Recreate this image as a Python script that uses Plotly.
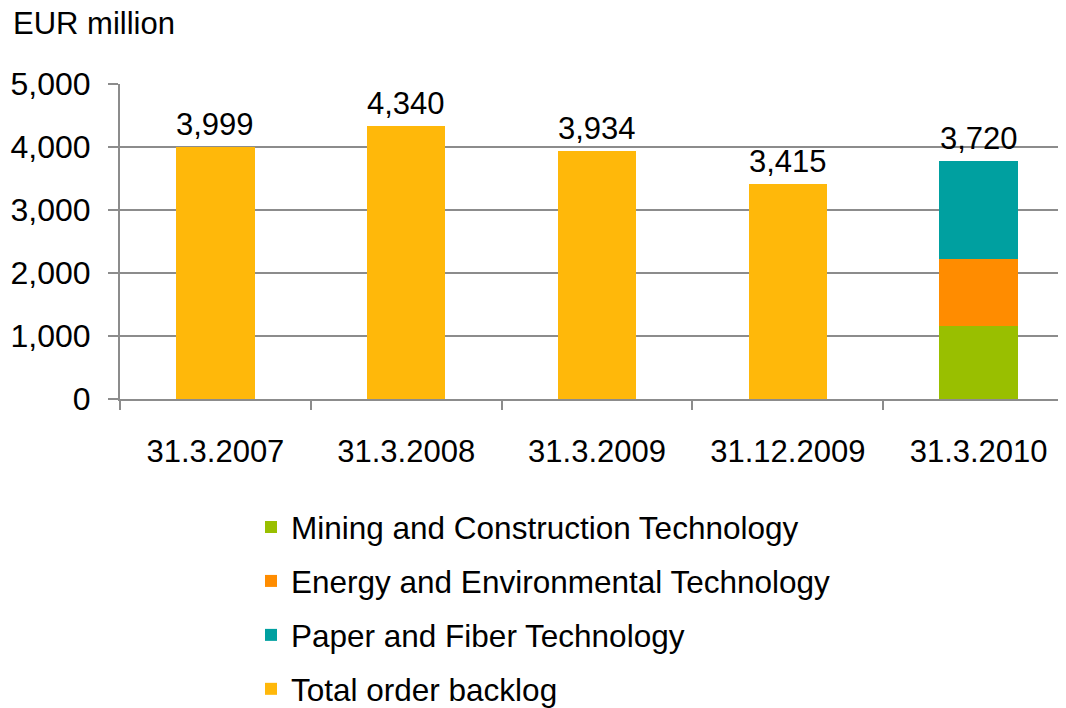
import plotly.graph_objects as go

categories = ["31.3.2007", "31.3.2008", "31.3.2009", "31.12.2009", "31.3.2010"]
total_backlog = [3999, 4340, 3934, 3415, None]
mining = [None, None, None, None, 1160]
energy = [None, None, None, None, 1060]
paper = [None, None, None, None, 1550]
label_values = [3999, 4340, 3934, 3415, 3720]

C_MINING = "#99BF00"
C_ENERGY = "#FF8C00"
C_PAPER = "#00A0A0"
C_TOTAL = "#FFB80A"
GRID = "#8C8C8C"
FONT = "Liberation Sans, Arial, sans-serif"

# page body adds an 8px offset; positions below are in figure pixels
W, H = 1066, 708
L, R, T, B = 112, 0, 76, 316
pw = W - L - R
ph = H - T - B

fig = go.Figure()
series = [
    ("Mining and Construction Technology", mining, C_MINING),
    ("Energy and Environmental Technology", energy, C_ENERGY),
    ("Paper and Fiber Technology", paper, C_PAPER),
    ("Total order backlog", total_backlog, C_TOTAL),
]
for i, (name, vals, col) in enumerate(series):
    fig.add_trace(go.Bar(
        x=categories, y=vals, name=name, marker_color=col,
        marker_line_width=0, width=0.41, legendgroup=f"g{i}",
        hoverinfo="x+y+name",
    ))

for i, cat in enumerate(categories):
    stack = sum(v[i] for _, v, _ in series if v[i] is not None)
    fig.add_annotation(
        x=cat, y=max(stack, label_values[i]), text=f"{label_values[i]:,}",
        showarrow=False, yanchor="bottom", yshift=3,
        font=dict(family=FONT, size=31, color="#000000"),
    )

fig.add_annotation(
    xref="paper", yref="paper", x=(4 - L) / pw, y=(H - B - 15) / ph,
    text="EUR million", showarrow=False, xanchor="left", yanchor="middle",
    borderpad=0,
    font=dict(family=FONT, size=31, color="#000000"),
)

fig.update_layout(
    width=W, height=H,
    margin=dict(l=L, r=R, t=T, b=B, pad=0),
    barmode="stack",
    plot_bgcolor="white", paper_bgcolor="white",
    font=dict(family=FONT, size=31, color="#000000"),
    showlegend=True,
    legend=dict(
        x=(243 - L) / pw, y=(H - B - 493) / ph, xanchor="left", yanchor="top",
        orientation="v", traceorder="grouped", tracegroupgap=10,
        font=dict(family=FONT, size=31.5, color="#000000"),
        bgcolor="rgba(0,0,0,0)", itemsizing="constant",
    ),
    xaxis=dict(
        type="category", range=[-0.5, 4.5],
        showline=True, linecolor=GRID, linewidth=2,
        ticks="outside", tickson="boundaries", ticklen=9, tickcolor=GRID, tickwidth=2,
        showgrid=False, ticklabelstandoff=24,
        tickfont=dict(family=FONT, size=31, color="#000000"),
    ),
    yaxis=dict(
        range=[0, 5000], dtick=1000, tickformat=",",
        showline=True, linecolor=GRID, linewidth=2,
        ticks="outside", ticklen=10, tickcolor=GRID, tickwidth=2,
        showgrid=True, gridcolor=GRID, gridwidth=2, zeroline=False,
        ticklabelstandoff=11,
        tickfont=dict(family=FONT, size=32, color="#000000"),
    ),
)

fig.write_html("out.html")
